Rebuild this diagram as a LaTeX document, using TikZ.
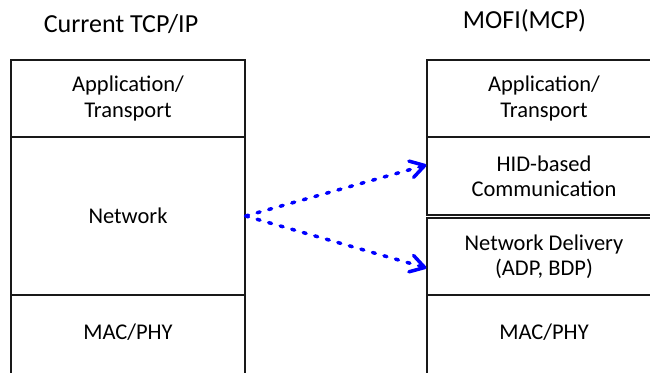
\documentclass[tikz,border=0pt]{standalone}
\usepackage{fontspec}
\setmainfont{Carlito}
\usetikzlibrary{arrows.meta,calc}
\begin{document}
\begin{tikzpicture}[x=1pt,y=-1pt,
  layer/.style={draw=black!90,line width=1.2pt,minimum width=234pt,inner sep=0pt,
    align=center,font=\fontsize{22.5}{25}\selectfont},
  caption/.style={anchor=base,font=\fontsize{26}{30}\selectfont},
  body/.style={align=center,font=\fontsize{22.5}{25}\selectfont},
  maplink/.style={draw=blue,line width=3.5pt,line cap=round,dash pattern=on 3pt off 9pt,
    -{Straight Barb[length=14pt,width=17pt,line width=3.5pt,line cap=round,line join=round]}}]
\useasboundingbox (0,0) rectangle (650,372);

% titles
\node[caption] (tl) at (121,32) {Current TCP/IP};
\node[caption] (tr) at (524.5,28) {MOFI(MCP)};

% left stack
\node[layer,minimum height=77pt]  (lapp) at (128,98.5) {Application/\\Transport};
\node[layer,minimum height=158pt] (lnet) at (128,216)  {Network};
\node[layer,minimum height=90pt]  (lmac) at (128,340)  {};
\node[body] (lmact) at (128,332) {MAC/PHY};

% right stack
\node[layer,minimum height=77pt] (rapp) at (544,98.5) {Application/\\Transport};
\node[layer,minimum height=78pt] (rhid) at (544,176)  {HID-based\\Communication};
\node[layer,minimum height=77pt] (rnd)  at (544,256.5) {Network Delivery\\(ADP, BDP)};
\node[layer,minimum height=90pt] (rmac) at (544,340)  {};
\node[body] (rmact) at (544,332) {MAC/PHY};

% mapping arrows
\coordinate (hidin) at ($(rhid.west)+(0,-11)$);
\coordinate (ndin)  at ($(rnd.west)+(0,11.5)$);
\draw[maplink] (lnet.east) -- (hidin);
\draw[maplink] (lnet.east) -- (ndin);
\end{tikzpicture}
\end{document}
